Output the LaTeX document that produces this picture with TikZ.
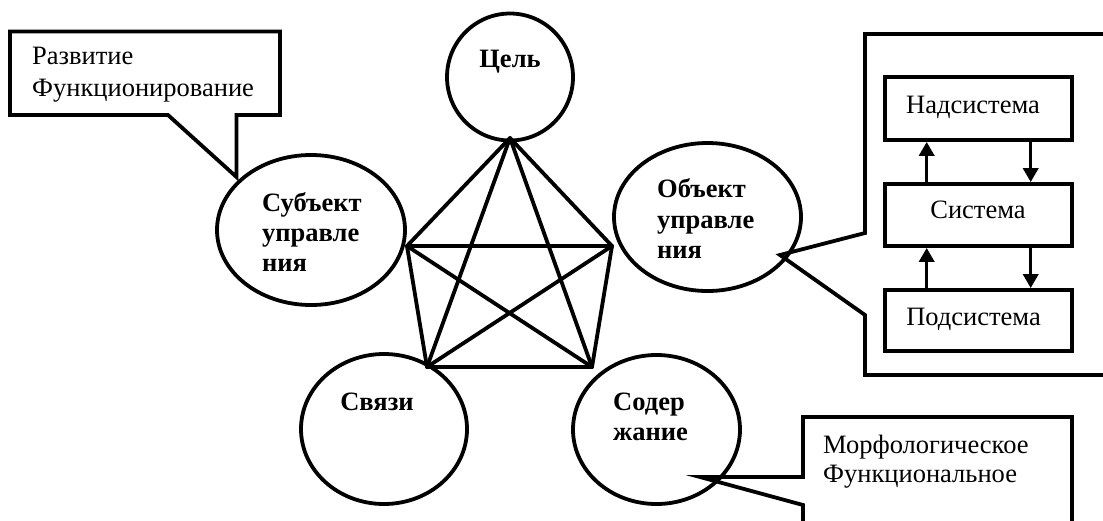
\documentclass[tikz,border=0pt]{standalone}
\usepackage{fontspec}
\setmainfont{Liberation Serif}
\usetikzlibrary{shapes.geometric,arrows.meta}
\begin{document}
\begin{tikzpicture}[x=1pt,y=-1pt,
  ln/.style={line width=3.8pt},
  oval/.style={ln,draw,ellipse,inner sep=0pt},
  lbl/.style={anchor=base west,inner sep=0pt,font=\fontsize{26.5}{30}\selectfont},
  blbl/.style={lbl,font=\fontsize{26.5}{30}\selectfont\bfseries},
  sysbox/.style={ln,draw,rectangle,minimum width=187pt,inner sep=0pt},
  arr/.style={line width=3.5pt,-{Triangle[width=15pt,length=14pt]}},
  edgeln/.style={ln,line join=round,line cap=round},
  callout/.style={ln,line join=miter}
]
\useasboundingbox (0,0) rectangle (1103,520);

% ellipses
\node[oval,minimum width=126pt,minimum height=127pt] (cel) at (510,77) {};
\node[oval,minimum width=188pt,minimum height=150pt] (sub) at (311,230) {};
\node[oval,minimum width=187pt,minimum height=148pt] (obj) at (707.5,217) {};
\node[oval,minimum width=166pt,minimum height=150pt] (svy) at (384,429) {};
\node[oval,minimum width=167pt,minimum height=149pt] (sod) at (656.5,429.5) {};

% ellipse texts
\node[blbl,anchor=base] (tcel) at (510,67) {Цель};
\node[blbl] (tsub1) at (262,211) {Субъект};
\node[blbl] (tsub2) at (262,241) {управле};
\node[blbl] (tsub3) at (262,271) {ния};
\node[blbl] (tobj1) at (657,197) {Объект};
\node[blbl] (tobj2) at (657,228) {управле};
\node[blbl] (tobj3) at (657,258) {ния};
\node[blbl,anchor=base] (tsvy) at (377,410) {Связи};
\node[blbl] (tsod1) at (613,410) {Содер};
\node[blbl] (tsod2) at (613,440) {жание};

% pentagon
\coordinate (pt) at (510,138);
\coordinate (pl) at (407,246);
\coordinate (pr) at (612,246);
\coordinate (pbl) at (427,367);
\coordinate (pbr) at (592,367);
\draw[edgeln] (pt) -- (pl);
\draw[edgeln] (pt) -- (pr);
\draw[edgeln] (pt) -- (pbl);
\draw[edgeln] (pt) -- (pbr);
\draw[edgeln] (pl) -- (pr);
\draw[edgeln] (pl) -- (pbl);
\draw[edgeln] (pl) -- (pbr);
\draw[edgeln] (pr) -- (pbl);
\draw[edgeln] (pr) -- (pbr);
\draw[edgeln] (pbl) -- (pbr);

% left callout
\draw[callout] (10,31.5) -- (280,31.5) -- (280,115) -- (236.5,115) -- (236.5,177)
  -- (168,115) -- (10,115) -- cycle;
\node[lbl] (tl1) at (32,64) {Развитие};
\node[lbl] (tl2) at (32,96) {Функционирование};

% right frame callout
\draw[callout] (1110,34) -- (865,34) -- (865,233) -- (780,255) -- (865,315)
  -- (865,375) -- (1110,375);
\node[sysbox,minimum height=63pt] (nad) at (978.5,108.5) {};
\node[sysbox,minimum height=62pt] (sys) at (978.5,215) {};
\node[sysbox,minimum height=61pt] (pod) at (978.5,320.5) {};
\node[lbl,anchor=base] (tnad) at (973,113) {Надсистема};
\node[lbl,anchor=base] (tsys) at (978,218) {Система};
\node[lbl,anchor=base] (tpod) at (973.5,325) {Подсистема};
\coordinate (ux) at (926.7,0);
\coordinate (dx) at (1030.7,0);
\draw[arr] (sys.north -| ux) -- (nad.south -| ux);
\draw[arr] (nad.south -| dx) -- (sys.north -| dx);
\draw[arr] (pod.north -| ux) -- (sys.south -| ux);
\draw[arr] (sys.south -| dx) -- (pod.north -| dx);

% bottom right callout
\draw[callout] (803,530) -- (803,505) -- (700,477) -- (803,477) -- (803,417)
  -- (1072,417) -- (1072,530);
\node[lbl] (tm1) at (823,453) {Морфологическое};
\node[lbl] (tm2) at (823,482) {Функциональное};
\end{tikzpicture}
\end{document}
